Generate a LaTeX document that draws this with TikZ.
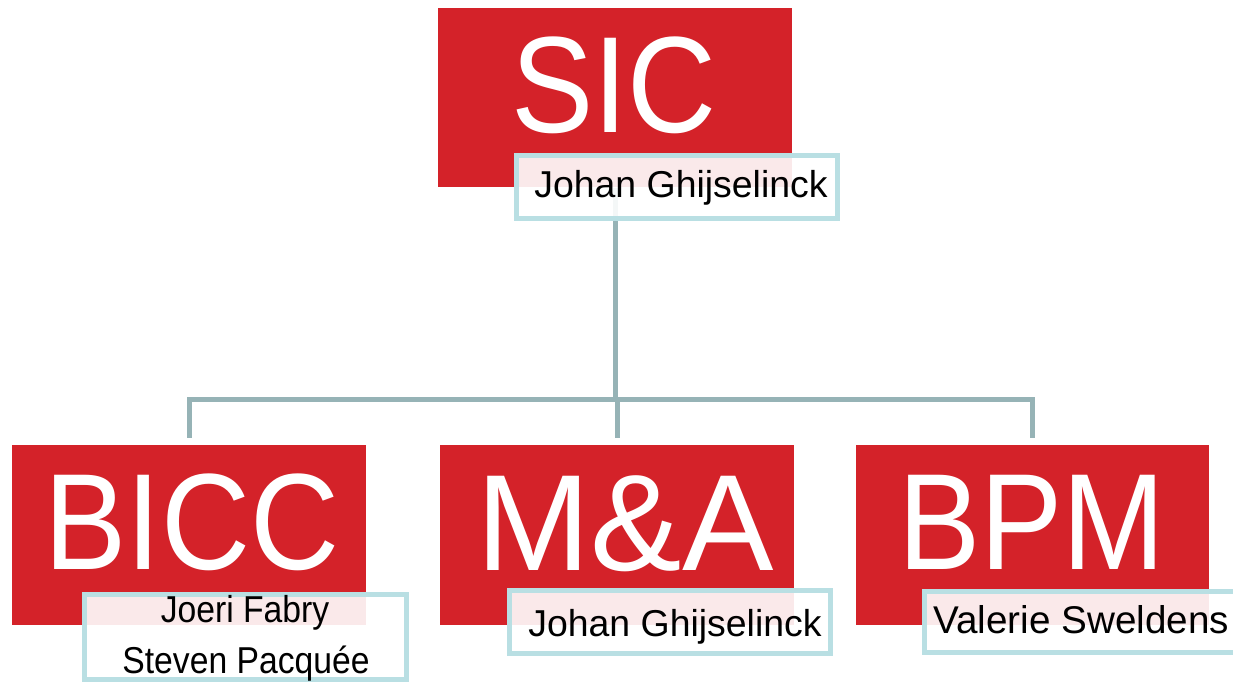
\documentclass[tikz,border=0pt]{standalone}
\usepackage{fontspec}
\setmainfont{Liberation Sans}
\newfontfamily\unitfont[FakeStretch=0.9]{Liberation Sans}
\newfontfamily\unitwidefont{Liberation Sans}
\newfontfamily\pairfont[FakeStretch=0.9]{Liberation Sans}
\definecolor{unitred}{RGB}{212,34,41}
\definecolor{namerim}{RGB}{185,223,227}
\definecolor{linkgray}{RGB}{150,179,182}
\tikzset{
  unit/.style={fill=unitred, inner sep=0pt, minimum width=7.08cm, minimum height=3.6cm},
  unitname/.style={text=white, inner sep=0pt, anchor=base, font=\unitfont\fontsize{78}{80}\selectfont},
  namebox/.style={draw=namerim, line width=0.1cm, fill=white, fill opacity=0.9, inner sep=0pt, minimum width=6.44cm},
  person/.style={inner sep=0pt, font=\fontsize{21.3}{25}\selectfont},
  link/.style={draw=linkgray, line width=0.1cm},
}
\begin{document}
\begin{tikzpicture}[x=0.02cm, y=-0.02cm]
  \useasboundingbox (0,0) rectangle (1233,683);
  % red unit boxes
  \node[unit] (sic) at (615,97.5) {};
  \node[unit] (bicc) at (189,535) {};
  \node[unit] (mna) at (617,535) {};
  \node[unit] (bpm) at (1032.5,535) {};
  % connectors
  \coordinate (split) at (617,399);
  \draw[link] (sic.south) -- (sic.south |- split);
  \draw[link, shorten <=0.14cm, shorten >=0.14cm] (bicc.north) |- (split) -| (bpm.north);
  \draw[link, shorten >=0.14cm] (split) -- (mna.north);
  % name boxes
  \node[namebox, minimum height=1.26cm] (sicbox) at (677,187) {};
  \node[namebox, minimum height=1.7cm] (biccbox) at (245.5,637) {};
  \node[namebox, minimum height=1.26cm] (mnabox) at (670,622) {};
  \node[namebox, minimum height=1.22cm] (bpmbox) at (1085.5,622) {};
  % unit labels
  \node[unitname] (sictext) at (614,132) {SIC};
  \node[unitname] (bicctext) at (192,569) {BICC};
  \node[unitname, font=\unitwidefont\fontsize{78}{80}\selectfont] (mnatext) at (625,570) {M\&A};
  \node[unitname] (bpmtext) at (1032,569) {BPM};
  % people
  \node[person, anchor=base west] (sicboss) at (534,197) {Johan Ghijselinck};
  \node[person, anchor=base, font=\pairfont\fontsize{21.3}{25}\selectfont] (biccfirst) at (245,622) {Joeri Fabry};
  \node[person, anchor=base, font=\pairfont\fontsize{21.3}{25}\selectfont] (biccsecond) at (246,673) {Steven Pacquée};
  \node[person, anchor=base west] (mnaboss) at (528,636) {Johan Ghijselinck};
  \node[person, anchor=base west, font=\fontsize{22}{25}\selectfont] (bpmboss) at (933,633) {Valerie Sweldens};
\end{tikzpicture}
\end{document}
